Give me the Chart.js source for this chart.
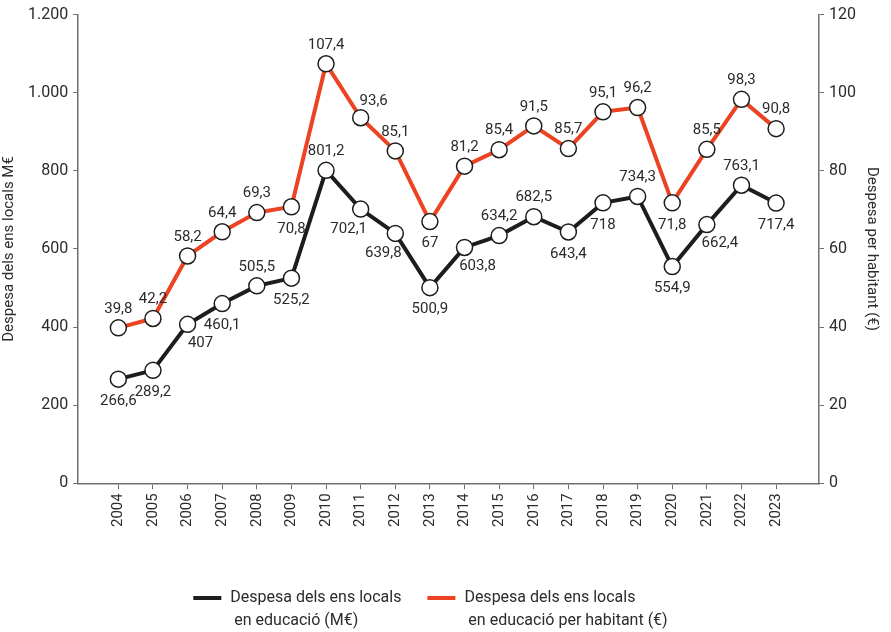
<!DOCTYPE html>
<html>
<head>
<meta charset="utf-8">
<script src="https://cdn.jsdelivr.net/npm/chart.js@4/dist/chart.umd.min.js"></script>
<style>
  html, body { margin: 0; padding: 0; background: #fff; }
  #wrap { width: 891px; height: 632px; }
</style>
</head>
<body>
<div id="wrap"><canvas id="chart" width="891" height="632"></canvas></div>
<script>
// anys
const years = ['2004','2005','2006','2007','2008','2009','2010','2011','2012','2013',
               '2014','2015','2016','2017','2018','2019','2020','2021','2022','2023'];
// despesa total (M€)
const totalSpend = [266.6, 289.2, 407, 460.1, 505.5, 525.2, 801.2, 702.1, 639.8, 500.9,
                    603.8, 634.2, 682.5, 643.4, 718, 734.3, 554.9, 662.4, 763.1, 717.4];
// despesa per habitant (€)
const perCapita = [39.8, 42.2, 58.2, 64.4, 69.3, 70.8, 107.4, 93.6, 85.1, 67,
                   81.2, 85.4, 91.5, 85.7, 95.1, 96.2, 71.8, 85.5, 98.3, 90.8];
// ticks
const leftTicks = [0, 200, 400, 600, 800, 1000, 1200];
const rightTicks = [0, 20, 40, 60, 80, 100, 120];

// on va cada etiqueta (a = a sobre, b = a sota, r/l = desplaçada)
const totalLabelPos = ['b','b','br','b','a','b','a','bl','bl','b',
                       'br','a','a','b','b','a','b','br','a','b'];
const perCapitaLabelPos = ['a','a','a','a','a','b','a','ar','a','b',
                           'a','a','a','a','a','a','b','a','a','a'];

const FONT = 'Roboto, "Liberation Sans", sans-serif';
const RED = '#ec4322';
const BLACK = '#1d1d1b';
const AXIS = '#707070';
const TXT = '#2b2b2b';

const fmt = (v) => String(v).replace('.', ',');
const fmtThousands = (v) => v >= 1000 ? String(v).replace(/\B(?=(\d{3})+(?!\d))/g, '.') : String(v);

// etiquetes de valor sobre els punts
const valueLabels = {
  id: 'valueLabels',
  afterDatasetsDraw(chart) {
    const ctx = chart.ctx;
    ctx.save();
    ctx.font = '15px ' + FONT;
    ctx.fillStyle = TXT;
    ctx.textAlign = 'center';
    ctx.textBaseline = 'middle';
    chart.data.datasets.forEach((ds, i) => {
      const meta = chart.getDatasetMeta(i);
      meta.data.forEach((pt, j) => {
        const pos = ds.labelPos[j];
        let dx = 0, dy = pos[0] === 'a' ? -19 : 22;
        if (pos[1] === 'r') { dx = 13; dy = pos[0] === 'a' ? -16 : 19; }
        if (pos[1] === 'l') { dx = -12; dy = 20; }
        ctx.fillText(fmt(ds.data[j].y), pt.x + dx, pt.y + dy);
      });
    });
    ctx.restore();
  }
};

// llegenda a baix, amb etiquetes de dues línies
const bottomLegend = {
  id: 'bottomLegend',
  afterDraw(chart) {
    const ctx = chart.ctx;
    ctx.save();
    ctx.font = '16px ' + FONT;
    ctx.textBaseline = 'middle';
    ctx.textAlign = 'left';
    const items = chart.data.datasets.map(ds => {
      const w = Math.max(...ds.label.map(t => ctx.measureText(t).width));
      return { ds, w: 28 + 9 + w };
    });
    const gap = 26;
    const total = items.reduce((s, it) => s + it.w, 0) + gap * (items.length - 1);
    let x = chart.width / 2 - 15 - total / 2;
    const y0 = 598;
    items.forEach(it => {
      ctx.fillStyle = it.ds.borderColor;
      ctx.fillRect(x, y0 - 2, 28, 4);
      ctx.fillStyle = TXT;
      it.ds.label.forEach((t, k) => ctx.fillText(t, x + 37, y0 + k * 23));
      x += it.w + gap;
    });
    ctx.restore();
  }
};

const toPoints = (vals) => vals.map((v, i) => ({ x: Number(years[i]), y: v }));

new Chart(document.getElementById('chart'), {
  type: 'line',
  data: {
    datasets: [{
      label: ['Despesa dels ens locals', ' en educació (M€)'],
      data: toPoints(totalSpend),
      labelPos: totalLabelPos,
      yAxisID: 'y',
      borderColor: BLACK,
      backgroundColor: BLACK,
      borderWidth: 4,
      pointRadius: 8,
      pointBackgroundColor: '#fff',
      pointBorderColor: BLACK,
      pointBorderWidth: 1.5,
      tension: 0
    }, {
      label: ['Despesa dels ens locals', ' en educació per habitant (€)'],
      data: toPoints(perCapita),
      labelPos: perCapitaLabelPos,
      yAxisID: 'y1',
      borderColor: RED,
      backgroundColor: RED,
      borderWidth: 4,
      pointRadius: 8,
      pointBackgroundColor: '#fff',
      pointBorderColor: BLACK,
      pointBorderWidth: 1.5,
      tension: 0
    }]
  },
  options: {
    responsive: false,
    animation: false,
    layout: { padding: { top: 8, left: 0, right: 0, bottom: 101 } },
    plugins: {
      tooltip: { enabled: false },
      legend: { display: false }
    },
    scales: {
      x: {
        type: 'linear',
        min: 2002.84,
        max: 2024.24,
        afterBuildTicks(scale) {
          scale.ticks = years.map(y => ({ value: Number(y) }));
        },
        ticks: {
          color: TXT,
          font: { family: FONT, size: 15 },
          minRotation: 90,
          maxRotation: 90,
          padding: 4,
          callback: (v) => String(v)
        },
        grid: { drawOnChartArea: false, drawTicks: true, tickLength: 6, color: AXIS },
        border: { color: AXIS, width: 1.5 }
      },
      y: {
        position: 'left',
        min: 0,
        max: 1200,
        afterBuildTicks(scale) {
          scale.ticks = leftTicks.map(v => ({ value: v }));
        },
        ticks: {
          color: TXT,
          font: { family: FONT, size: 16 },
          padding: 5,
          callback: (v) => fmtThousands(v)
        },
        title: {
          display: true,
          text: 'Despesa dels ens locals M€',
          color: TXT,
          font: { family: FONT, size: 15 },
          padding: { top: 0, bottom: 5 }
        },
        grid: { drawOnChartArea: false, drawTicks: true, tickLength: 5, color: AXIS },
        border: { color: AXIS, width: 1.5 }
      },
      y1: {
        position: 'right',
        min: 0,
        max: 120,
        afterBuildTicks(scale) {
          scale.ticks = rightTicks.map(v => ({ value: v }));
        },
        ticks: {
          color: TXT,
          font: { family: FONT, size: 16 },
          padding: 5
        },
        title: {
          display: true,
          text: 'Despesa per habitant (€)',
          color: TXT,
          font: { family: FONT, size: 15 },
          padding: { top: 10, bottom: 2 }
        },
        grid: { drawOnChartArea: false, drawTicks: true, tickLength: 5, color: AXIS },
        border: { color: AXIS, width: 1.5 }
      }
    }
  },
  plugins: [valueLabels, bottomLegend]
});
</script>
</body>
</html>
